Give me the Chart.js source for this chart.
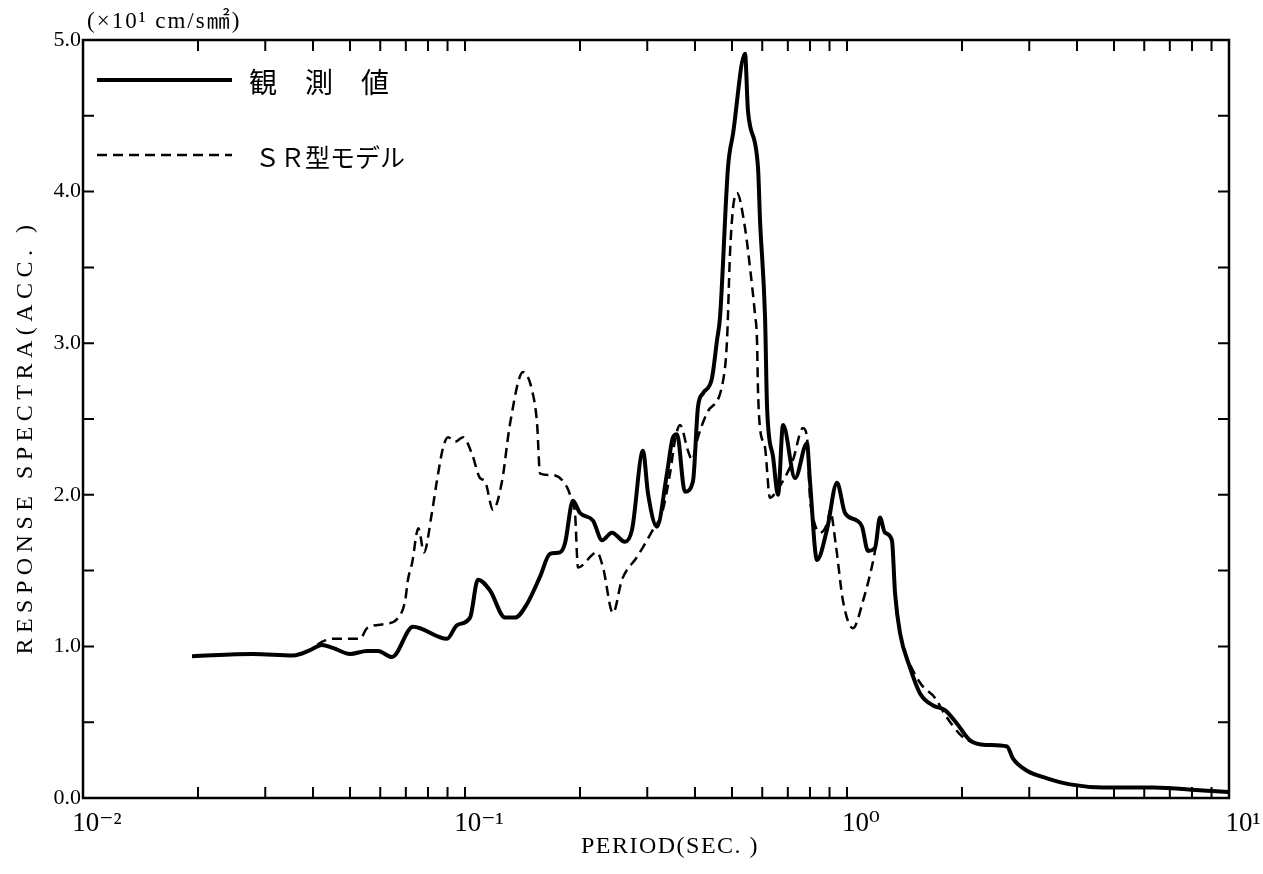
<!DOCTYPE html>
<html>
<head>
<meta charset="utf-8">
<script src="https://cdn.jsdelivr.net/npm/chart.js@4.4.0/dist/chart.umd.min.js"></script>
<style>
body { margin: 0; background: #fff; }
canvas { display: block; }
</style>
</head>
<body>
<canvas id="myChart" width="1263" height="874"></canvas>
<script>
// observed (solid line)
var obsPeriod = [0.0193, 0.0279, 0.0355, 0.0393, 0.0422, 0.0451, 0.0500, 0.0554, 0.0592, 0.0644,
    0.0731, 0.0897, 0.0953, 0.1031, 0.1081, 0.1162, 0.1273, 0.1352, 0.1453, 0.1572,
    0.1669, 0.1773, 0.1827, 0.1917, 0.2000, 0.2163, 0.2284, 0.2425, 0.2623, 0.2737,
    0.2924, 0.3013, 0.3181, 0.3378, 0.3503, 0.3589, 0.3765, 0.3952, 0.4073, 0.4198,
    0.4432, 0.4568, 0.4651, 0.4881, 0.5030, 0.5408, 0.5506, 0.5848, 0.5920, 0.6102,
    0.6176, 0.6404, 0.6599, 0.6801, 0.7312, 0.7857, 0.8000, 0.8346, 0.8862, 0.9414,
    0.988, 1.062, 1.095, 1.135, 1.184, 1.220, 1.257, 1.311, 1.336, 1.376,
    1.462, 1.553, 1.680, 1.805, 1.941, 2.099, 2.326, 2.623, 2.720, 2.960,
    3.339, 3.836, 4.679, 6.324, 8.551, 10.0]
var obsAcc = [0.935, 0.95, 0.94, 0.975, 1.01, 0.99, 0.95, 0.97, 0.97, 0.93,
    1.13, 1.05, 1.14, 1.19, 1.44, 1.37, 1.19, 1.19, 1.28, 1.46,
    1.61, 1.62, 1.68, 1.96, 1.88, 1.83, 1.70, 1.75, 1.69, 1.77,
    2.29, 2.01, 1.79, 2.14, 2.38, 2.40, 2.02, 2.09, 2.58, 2.67,
    2.77, 3.02, 3.17, 4.16, 4.38, 4.91, 4.53, 4.16, 3.81, 3.17,
    2.58, 2.25, 2.00, 2.46, 2.11, 2.34, 2.09, 1.57, 1.77, 2.08,
    1.88, 1.83, 1.79, 1.63, 1.65, 1.85, 1.75, 1.70, 1.35, 1.09,
    0.86, 0.69, 0.61, 0.58, 0.49, 0.38, 0.35, 0.34, 0.26, 0.18,
    0.13, 0.09, 0.07, 0.07, 0.05, 0.04]

// SR model (dashed line)
var srPeriod = [0.0193, 0.0279, 0.0355, 0.0393, 0.0422, 0.0451, 0.0531, 0.0554, 0.0625, 0.0664,
    0.0697, 0.0709, 0.0727, 0.0755, 0.0781, 0.0819, 0.0844, 0.0876, 0.0903, 0.0942,
    0.0988, 0.1043, 0.1095, 0.1128, 0.1184, 0.1250, 0.1312, 0.1419, 0.1498, 0.1544,
    0.1572, 0.1700, 0.1849, 0.1905, 0.1941, 0.1976, 0.2216, 0.2298, 0.2440, 0.2576,
    0.2821, 0.3105, 0.3279, 0.3441, 0.3546, 0.3655, 0.3835, 0.3929, 0.4073, 0.4300,
    0.4736, 0.4852, 0.4940, 0.5030, 0.5152, 0.5408, 0.5572, 0.5743, 0.5813, 0.5848,
    0.5920, 0.6102, 0.6286, 0.6558, 0.6964, 0.7222, 0.7668, 0.7857, 0.8000, 0.8147,
    0.8498, 0.8918, 0.9025, 0.9359, 0.9761, 1.0368, 1.1013, 1.184, 1.220, 1.257,
    1.311, 1.336, 1.376, 1.403, 1.553, 1.700, 1.805, 1.976, 2.074, 2.326,
    2.623, 2.720, 2.960, 3.339, 3.836, 4.679, 6.324, 8.551, 10.0]
var srAcc = [0.935, 0.95, 0.94, 0.975, 1.03, 1.05, 1.05, 1.12, 1.15, 1.18,
    1.30, 1.44, 1.55, 1.78, 1.62, 1.88, 2.09, 2.31, 2.38, 2.35,
    2.38, 2.27, 2.11, 2.09, 1.90, 2.09, 2.47, 2.81, 2.69, 2.47,
    2.14, 2.13, 2.05, 1.96, 1.88, 1.52, 1.62, 1.52, 1.22, 1.44,
    1.59, 1.77, 1.88, 2.14, 2.36, 2.46, 2.29, 2.23, 2.38, 2.54,
    2.75, 3.02, 3.59, 3.89, 3.99, 3.76, 3.50, 3.19, 3.02, 2.69,
    2.44, 2.31, 1.98, 2.03, 2.14, 2.23, 2.44, 2.38, 1.98, 1.85,
    1.75, 1.83, 1.90, 1.66, 1.30, 1.12, 1.30, 1.63, 1.85, 1.75,
    1.70, 1.35, 1.09, 1.00, 0.76, 0.66, 0.55, 0.42, 0.38, 0.35,
    0.34, 0.26, 0.18, 0.13, 0.09, 0.07, 0.07, 0.05, 0.04]

var decades = [0.01, 0.1, 1, 10]
var decadeLabels = ['10⁻²', '10⁻¹', '10⁰', '10¹']
var yTicks = [0, 1, 2, 3, 4, 5]
var yMinorTicks = [0.5, 1.5, 2.5, 3.5, 4.5]

var legendNames = ['観　測　値', 'ＳＲ型モデル']
var unitText = '(×10¹ cm/s㎟)'
var xTitle = 'PERIOD(SEC. )'
var yTitle = 'RESPONSE SPECTRA(ACC. )'

var SERIF = "'Liberation Serif', 'DejaVu Serif', serif"
var CJK = "'Noto Sans CJK JP', sans-serif"

function toPoints(xs, ys) {
    return xs.map((x, i) => ({ x: x, y: ys[i] }))
}

// every 1..9 x 10^n position for the little ticks
var periodTicks = []
decades.slice(0, 3).forEach(d => {
    for (let m = 1; m < 10; m++) periodTicks.push(+(m * d).toPrecision(3))
})
periodTicks.push(10)

const frame = {
    id: 'frame',
    afterDraw(chart) {
        const ctx = chart.ctx
        const a = chart.chartArea
        const xs = chart.scales.x
        const ys = chart.scales.y
        ctx.save()
        ctx.strokeStyle = '#000'
        ctx.lineWidth = 2.5
        ctx.strokeRect(a.left, a.top, a.right - a.left, a.bottom - a.top)

        // inward ticks on all four sides
        ctx.lineWidth = 2
        ctx.beginPath()
        periodTicks.forEach(v => {
            const px = xs.getPixelForValue(v)
            ctx.moveTo(px, a.bottom); ctx.lineTo(px, a.bottom - 11)
            ctx.moveTo(px, a.top); ctx.lineTo(px, a.top + 11)
        })
        yTicks.concat(yMinorTicks).forEach(v => {
            const py = ys.getPixelForValue(v)
            ctx.moveTo(a.left, py); ctx.lineTo(a.left + 11, py)
            ctx.moveTo(a.right, py); ctx.lineTo(a.right - 11, py)
        })
        ctx.stroke()

        // legend
        ctx.lineWidth = 4
        ctx.beginPath()
        ctx.moveTo(a.left + 14, a.top + 40); ctx.lineTo(a.left + 149, a.top + 40)
        ctx.stroke()
        ctx.lineWidth = 2.5
        ctx.setLineDash([10, 6])
        ctx.beginPath()
        ctx.moveTo(a.left + 14, a.top + 115); ctx.lineTo(a.left + 149, a.top + 115)
        ctx.stroke()
        ctx.setLineDash([])
        ctx.fillStyle = '#000'
        ctx.textBaseline = 'middle'
        ctx.textAlign = 'left'
        ctx.font = '28px ' + CJK
        ctx.fillText(legendNames[0], a.left + 166, a.top + 42)
        ctx.font = '25px ' + CJK
        ctx.fillText(legendNames[1], a.left + 172, a.top + 117)

        // unit label above the frame
        ctx.textBaseline = 'alphabetic'
        ctx.font = '23px ' + SERIF + ', ' + CJK
        ctx.letterSpacing = '2px'
        ctx.fillText(unitText, a.left + 4, a.top - 12)

        // axis titles
        ctx.font = '24px ' + SERIF
        ctx.textAlign = 'center'
        ctx.letterSpacing = '1.5px'
        ctx.fillText(xTitle, (a.left + a.right) / 2 + 14, 853)
        ctx.letterSpacing = '5.5px'
        ctx.translate(32, (a.top + a.bottom) / 2 + 18)
        ctx.rotate(-Math.PI / 2)
        ctx.fillText(yTitle, 0, 0)
        ctx.restore()
    }
}

const ctx = document.getElementById('myChart')

var myChart = new Chart(ctx, {
    type: 'line',
    data: {
        datasets: [{
            label: legendNames[0],
            data: toPoints(obsPeriod, obsAcc),
            borderColor: '#000',
            borderWidth: 4,
            pointRadius: 0,
            cubicInterpolationMode: 'monotone',
            order: 1
        }, {
            label: legendNames[1],
            data: toPoints(srPeriod, srAcc),
            borderColor: '#000',
            borderWidth: 2.5,
            borderDash: [10, 6],
            pointRadius: 0,
            cubicInterpolationMode: 'monotone',
            order: 0
        }]
    },
    options: {
        responsive: false,
        animation: false,
        layout: { padding: { left: 0, top: 40, right: 34, bottom: 0 } },
        plugins: {
            legend: { display: false },
            tooltip: { enabled: false }
        },
        scales: {
            x: {
                type: 'logarithmic',
                min: 0.01,
                max: 10,
                grid: { display: false, drawTicks: false },
                border: { display: false },
                afterBuildTicks: s => { s.ticks = periodTicks.map(v => ({ value: v })) },
                afterFit: s => { s.height = 76; s.paddingLeft = 0; s.paddingRight = 0 },
                ticks: {
                    autoSkip: false,
                    maxRotation: 0,
                    padding: 10,
                    labelOffset: 14,
                    color: '#000',
                    font: { family: SERIF, size: 27 },
                    callback: function(value) {
                        const i = decades.findIndex(d => Math.abs(d - value) < d * 1e-6)
                        return i >= 0 ? decadeLabels[i] : ''
                    }
                }
            },
            y: {
                min: 0,
                max: 5,
                grid: { display: false, drawTicks: false },
                border: { display: false },
                afterBuildTicks: s => { s.ticks = yTicks.map(v => ({ value: v })) },
                afterFit: s => { s.width = 83; s.paddingTop = 0; s.paddingBottom = 0 },
                ticks: {
                    padding: 2,
                    color: '#000',
                    font: { family: SERIF, size: 22 },
                    callback: v => v.toFixed(1)
                }
            }
        }
    },
    plugins: [frame]
});
</script>
</body>
</html>
